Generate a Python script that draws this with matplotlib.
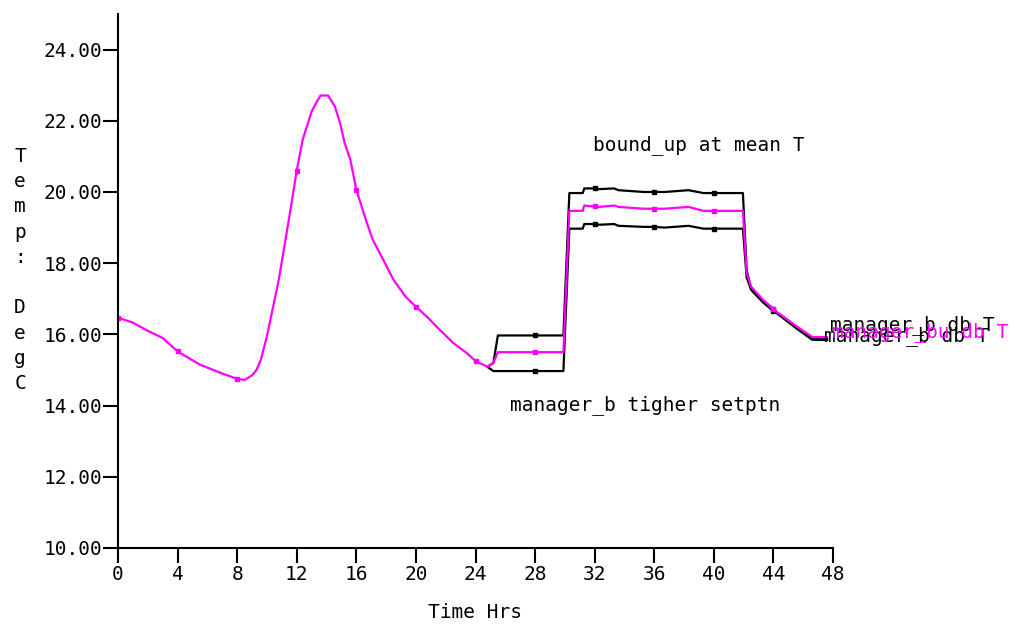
import matplotlib.pyplot as plt
import numpy as np

plt.rcParams['font.family'] = ['DejaVu Sans Mono']

# mean zone temperature (magenta)
t_mean = [0, 1, 2, 3, 4, 5.5, 7, 8, 8.5, 9, 9.3, 9.6, 10, 10.4, 10.8, 11.5, 12, 12.4, 13.0,
          13.35, 13.6, 14.1, 14.56, 14.9, 15.2, 15.6, 16, 16.7, 17.1, 17.8, 18.5, 19.3,
          20, 20.8, 21.6, 22.5, 23.4, 24, 24.8, 25.2, 25.5, 28, 29.9, 30.3, 31.2, 31.3,
          31.7, 32, 32.3, 33.3, 33.6, 35.3, 36, 36.7, 38.3, 39.3, 40, 41.95, 42.2, 42.5,
          43.3, 44, 44.2, 45.6, 46.6, 47.6]
T_mean = [16.47, 16.33, 16.1, 15.9, 15.52, 15.15, 14.9, 14.75, 14.72, 14.85, 15.0, 15.3,
          15.95, 16.75, 17.55, 19.3, 20.6, 21.47, 22.26, 22.54, 22.71, 22.71, 22.4, 21.95,
          21.4, 20.9, 20.06, 19.14, 18.66, 18.1, 17.53, 17.06, 16.78, 16.47, 16.13, 15.76,
          15.48, 15.25, 15.09, 15.2, 15.5, 15.5, 15.5, 19.47, 19.47, 19.62, 19.6, 19.6,
          19.58, 19.62, 19.58, 19.53, 19.53, 19.53, 19.58, 19.47, 19.47, 19.47, 17.73,
          17.34, 16.97, 16.7, 16.64, 16.21, 15.93, 15.92]

# bound_up (upper black) and lower black curves, from 24.8 h on
t_bnd = [24.8, 25.2, 25.5, 28, 29.9, 30.3, 31.2, 31.3, 31.7, 32, 32.3, 33.3, 33.6,
         35.3, 36, 36.7, 38.3, 39.3, 40, 41.95, 42.2, 42.5, 43.3, 44, 44.2, 45.6,
         46.6, 47.6]
T_up = [15.09, 15.2, 15.97, 15.97, 15.97, 19.97, 19.97, 20.1, 20.1, 20.1, 20.08, 20.1,
        20.05, 20.0, 20.0, 20.0, 20.05, 19.97, 19.97, 19.97, 17.8, 17.3, 16.95, 16.72,
        16.62, 16.2, 15.9, 15.88]
T_lo = [15.09, 14.97, 14.97, 14.97, 14.97, 18.97, 18.97, 19.1, 19.1, 19.1, 19.08,
        19.1, 19.05, 19.02, 19.02, 19.0, 19.05, 18.97, 18.97, 18.97, 17.6, 17.25,
        16.9, 16.65, 16.6, 16.15, 15.85, 15.84]

x_ticks = np.arange(0, 49, 4)
y_ticks = np.arange(10, 25, 2)

fig = plt.figure(figsize=(10.18, 6.24), dpi=100)
ax = fig.add_axes([0.1159, 0.1218, 0.7024, 0.8558])


def marks(t):
    return [i for i, v in enumerate(t) if v % 4 == 0]


ax.plot(t_bnd, T_up, color='black', lw=1.6, marker='s', ms=3.5, markevery=marks(t_bnd))
ax.plot(t_bnd, T_lo, color='black', lw=1.6, marker='s', ms=3.5, markevery=marks(t_bnd))
ax.plot(t_mean, T_mean, color='#FF00FF', lw=1.6, marker='s', ms=3.5, markevery=marks(t_mean))

ax.set_xlim(0, 48)
ax.set_ylim(10, 25)
ax.set_xticks(x_ticks)
ax.set_xticklabels([str(v) for v in x_ticks])
ax.set_yticks(y_ticks)
ax.set_yticklabels([f'{v:.2f}' for v in y_ticks])
ax.tick_params(axis='both', direction='out', length=11, width=1.5, labelsize=14, pad=1)
ax.tick_params(axis='y', pad=0)
for s in ['top', 'right']:
    ax.spines[s].set_visible(False)
for s in ['left', 'bottom']:
    ax.spines[s].set_linewidth(1.5)

ax.text(31.9, 21.33, 'bound_up at mean T', fontsize=14, va='center', ha='left')
ax.text(26.3, 14.02, 'manager_b tigher setptn', fontsize=14, va='center', ha='left')
# the three end labels overlap in the original as well
ax.text(47.8, 16.27, 'manager_b db T', fontsize=14, va='center', ha='left', clip_on=False)
ax.text(47.4, 15.96, 'manager_b db T', fontsize=14, va='center', ha='left', clip_on=False)
ax.text(47.9, 16.07, 'manager_bu db T', fontsize=14, va='center', ha='left',
        color='#FF00FF', clip_on=False)

fig.text(475 / 1018, 1 - 613 / 624, 'Time Hrs', fontsize=14, ha='center', va='center')
fig.text(20 / 1018, 1 - 270 / 624, '\n'.join('Temp: DegC'), fontsize=14,
         ha='center', va='center', linespacing=1.42)

fig.savefig('out.png', dpi=100)
